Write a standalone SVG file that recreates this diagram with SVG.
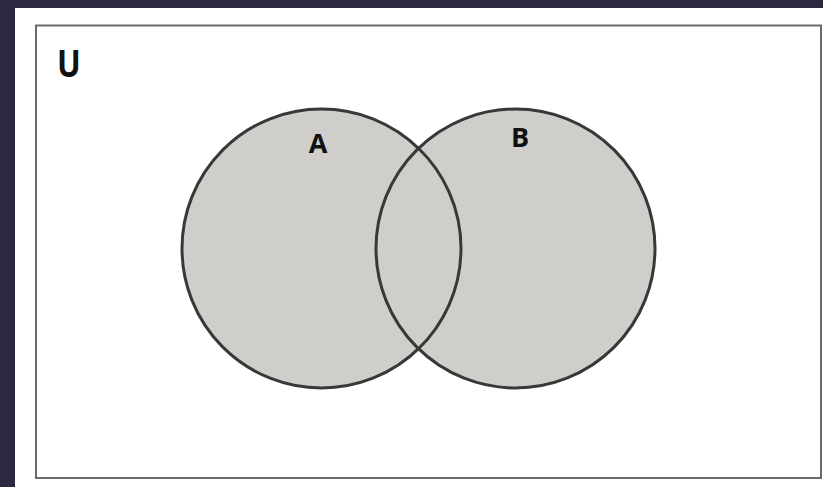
<svg xmlns="http://www.w3.org/2000/svg" width="823" height="487" viewBox="0 0 823 487">
<style>
.set{fill:#cfceca;stroke:#383838;stroke-width:3}
.edge{fill:none;stroke:#383838;stroke-width:3}
.lbl{font-family:"Open Sans","Liberation Sans",sans-serif;font-weight:bold;font-size:27px;fill:#111}
</style>
<rect x="0" y="0" width="823" height="487" fill="#2a2940"/>
<rect x="15" y="8" width="808" height="479" fill="#ffffff"/>
<g id="universe">
<rect x="36" y="25.5" width="785" height="452.5" fill="none" stroke="#6a6a6a" stroke-width="2"/>
<text class="lbl" x="69" y="77" text-anchor="middle" style="font-size:37px" transform="translate(69 0) scale(0.85 1) translate(-69 0)">U</text>
</g>
<g id="setA">
<circle class="set" cx="321.5" cy="248.5" r="139.5"/>
<text class="lbl" x="318" y="153" text-anchor="middle">A</text>
</g>
<g id="setB">
<circle class="set" cx="515.5" cy="248.5" r="139.5"/>
<text class="lbl" x="520" y="147" text-anchor="middle">B</text>
</g>
<g id="connectors">
<path class="edge" d="M 418.5 148.24 A 139.5 139.5 0 0 1 418.5 348.76"/>
</g>
</svg>
